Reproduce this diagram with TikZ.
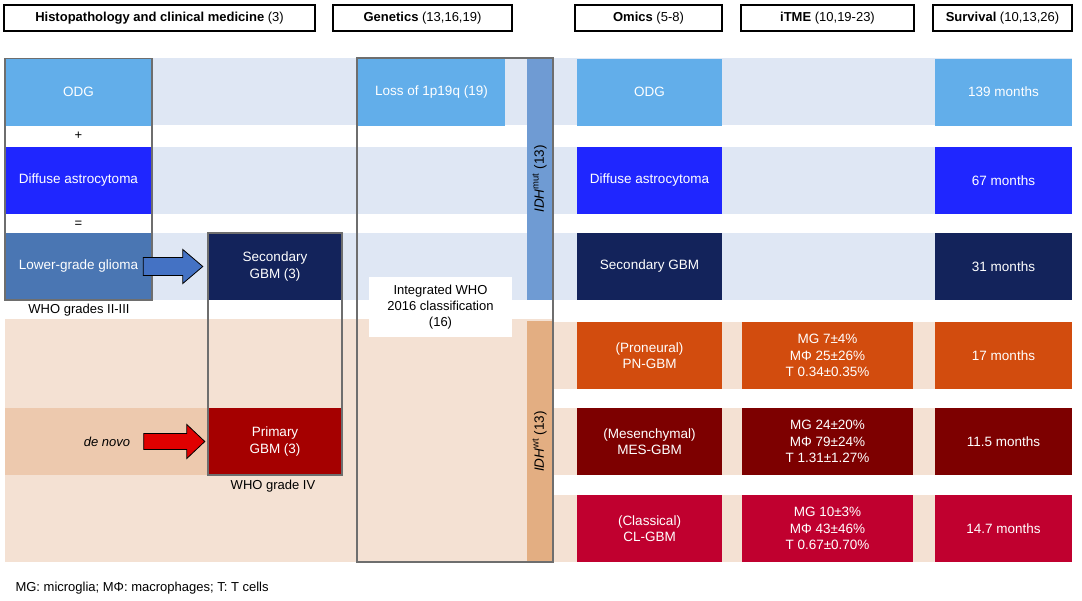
\documentclass[tikz,border=0pt]{standalone}
\usepackage{fontspec}
\setmainfont{Liberation Sans}
\usetikzlibrary{calc}
\definecolor{band-blue}{RGB}{223,231,244}
\definecolor{band-peach}{RGB}{244,225,211}
\definecolor{band-peach-dark}{RGB}{237,201,174}
\definecolor{odg-blue}{RGB}{98,174,234}
\definecolor{astro-blue}{RGB}{31,38,255}
\definecolor{lgg-blue}{RGB}{74,118,179}
\definecolor{gbm-navy}{RGB}{19,35,91}
\definecolor{idh-mut}{RGB}{111,155,211}
\definecolor{idh-wt}{RGB}{227,174,130}
\definecolor{pn-orange}{RGB}{210,76,14}
\definecolor{mes-red}{RGB}{125,0,0}
\definecolor{prim-red}{RGB}{165,0,0}
\definecolor{cl-red}{RGB}{192,0,47}
\definecolor{arrow-blue}{RGB}{68,114,196}
\definecolor{arrow-red}{RGB}{224,0,0}
\definecolor{frame-grey}{RGB}{110,110,110}
\tikzset{
  headbox/.style={draw=black, line width=1.3pt, minimum height=26, inner sep=0},
  cell/.style={fill=#1, text=white, minimum height=67, inner sep=0, align=center,
    font=\fontsize{13.5}{16.5}\selectfont},
  hpcol/.style={minimum width=147},
  omcol/.style={minimum width=145},
  tmcol/.style={minimum width=171},
  svcol/.style={minimum width=137},
  frame/.style={draw=frame-grey, line width=1.5pt},
  blockarrow/.style={draw=black, line width=0.8pt, line join=miter}
}
\begin{document}
\begin{tikzpicture}[x=1pt, y=-1pt, font=\fontsize{13}{16}\selectfont]
\useasboundingbox (0,0) rectangle (1082,600);
%Header boxes:
\node[headbox, minimum width=311] (h-hist) at (159.5,18) {\textbf{Histopathology and clinical medicine} (3)};
\node[headbox, minimum width=179] (h-gen) at (422.5,18) {\textbf{Genetics} (13,16,19)};
\node[headbox, minimum width=147] (h-omics) at (648.5,18) {\textbf{Omics} (5-8)};
\node[headbox, minimum width=173] (h-itme) at (827.5,18) {\textbf{iTME} (10,19-23)};
\node[headbox, minimum width=139] (h-surv) at (1002.5,18) {\textbf{Survival} (10,13,26)};

%Background bands:
\foreach \y in {58,147,233} \fill[band-blue] (5,\y) rectangle ++(1067,67);
\fill[band-peach] (5,319) rectangle (553,562);
\foreach \y in {322,408,495} \fill[band-peach] (553,\y) rectangle ++(519,67);
\fill[band-peach-dark] (5,408) rectangle (208,475);

%Histopathology:
\node[cell=odg-blue, hpcol] (odg-l) at (78.5,92) {ODG};
\node (plus) at (78.5,136) {+};
\node[cell=astro-blue, hpcol] (astro-l) at (78.5,180.5) {Diffuse astrocytoma};
\node (eq) at (78.5,224) {=};
\node[cell=lgg-blue, hpcol] (lgg) at (78.5,266.5) {Lower-grade glioma};
\draw[frame] (odg-l.north west) rectangle (lgg.south east);
\node (grade23) at (79,310) {WHO grades II-III};
\node[cell=gbm-navy, minimum width=134] (sec-l) at (275,266.5) {Secondary\\GBM (3)};
\node[cell=prim-red, minimum width=134] (prim) at (275,441.5) {Primary\\GBM (3)};
\draw[frame] (sec-l.north west) rectangle (prim.south east);
\node (grade4) at (273,486) {WHO grade IV};
\node (denovo) at (107,442) {\textit{de novo}};
\filldraw[blockarrow, fill=arrow-blue] ($(lgg.east)+(-9,-9)$) -- ($(sec-l.west)+(-25,-9)$) -- ++(0,-8)
  -- ($(sec-l.west)+(-5,0)$) -- ($(sec-l.west)+(-25,17)$) -- ++(0,-8) -- ($(lgg.east)+(-9,9)$) -- cycle;
\filldraw[blockarrow, fill=arrow-red] ($(denovo.east)+(10,-8.5)$) -- ($(prim.west)+(-21,-8)$) -- ++(0,-9)
  -- ($(prim.west)+(-3,0)$) -- ($(prim.west)+(-21,17)$) -- ++(0,-9) -- ($(denovo.east)+(10,7.5)$) -- cycle;

%Genetics:
\node[cell=odg-blue, hpcol] (loss) at (431.5,92) {Loss of 1p19q (19)};
\node[cell=idh-mut, text=black, rotate=90, minimum width=242, minimum height=25] (idhmut) at (539.5,179) {\textit{IDH}\textsuperscript{mut} (13)};
\node[cell=idh-wt, text=black, rotate=90, minimum width=241, minimum height=25] (idhwt) at (539.5,441.5) {\textit{IDH}\textsuperscript{wt} (13)};
\node[fill=white, minimum width=143, minimum height=60, inner sep=0, align=center] (who2016) at (440.5,307) {Integrated WHO\\2016 classification\\(16)};
\draw[frame] (357,58) rectangle (553,562);

%Omics:
\node[cell=odg-blue, omcol] (odg-o) at (649.5,92) {ODG};
\node[cell=astro-blue, omcol] (astro-o) at (649.5,180.5) {Diffuse astrocytoma};
\node[cell=gbm-navy, omcol] (sec-o) at (649.5,266.5) {Secondary GBM};
\node[cell=pn-orange, omcol] (pn-o) at (649.5,355.5) {(Proneural)\\PN-GBM};
\node[cell=mes-red, omcol] (mes-o) at (649.5,441.5) {(Mesenchymal)\\MES-GBM};
\node[cell=cl-red, omcol] (cl-o) at (649.5,528.5) {(Classical)\\CL-GBM};

%iTME:
\node[cell=pn-orange, tmcol] (pn-t) at (827.5,355.5) {MG 7±4\%\\MΦ 25±26\%\\T 0.34±0.35\%};
\node[cell=mes-red, tmcol] (mes-t) at (827.5,441.5) {MG 24±20\%\\MΦ 79±24\%\\T 1.31±1.27\%};
\node[cell=cl-red, tmcol] (cl-t) at (827.5,528.5) {MG 10±3\%\\MΦ 43±46\%\\T 0.67±0.70\%};

%Survival:
\node[cell=odg-blue, svcol] (odg-s) at (1003.5,92) {139 months};
\node[cell=astro-blue, svcol] (astro-s) at (1003.5,180.5) {67 months};
\node[cell=gbm-navy, svcol] (sec-s) at (1003.5,266.5) {31 months};
\node[cell=pn-orange, svcol] (pn-s) at (1003.5,355.5) {17 months};
\node[cell=mes-red, svcol] (mes-s) at (1003.5,441.5) {11.5 months};
\node[cell=cl-red, svcol] (cl-s) at (1003.5,528.5) {14.7 months};

\node[anchor=west] (note) at (12,588) {MG: microglia; MΦ: macrophages; T: T cells};
\end{tikzpicture}
\end{document}
